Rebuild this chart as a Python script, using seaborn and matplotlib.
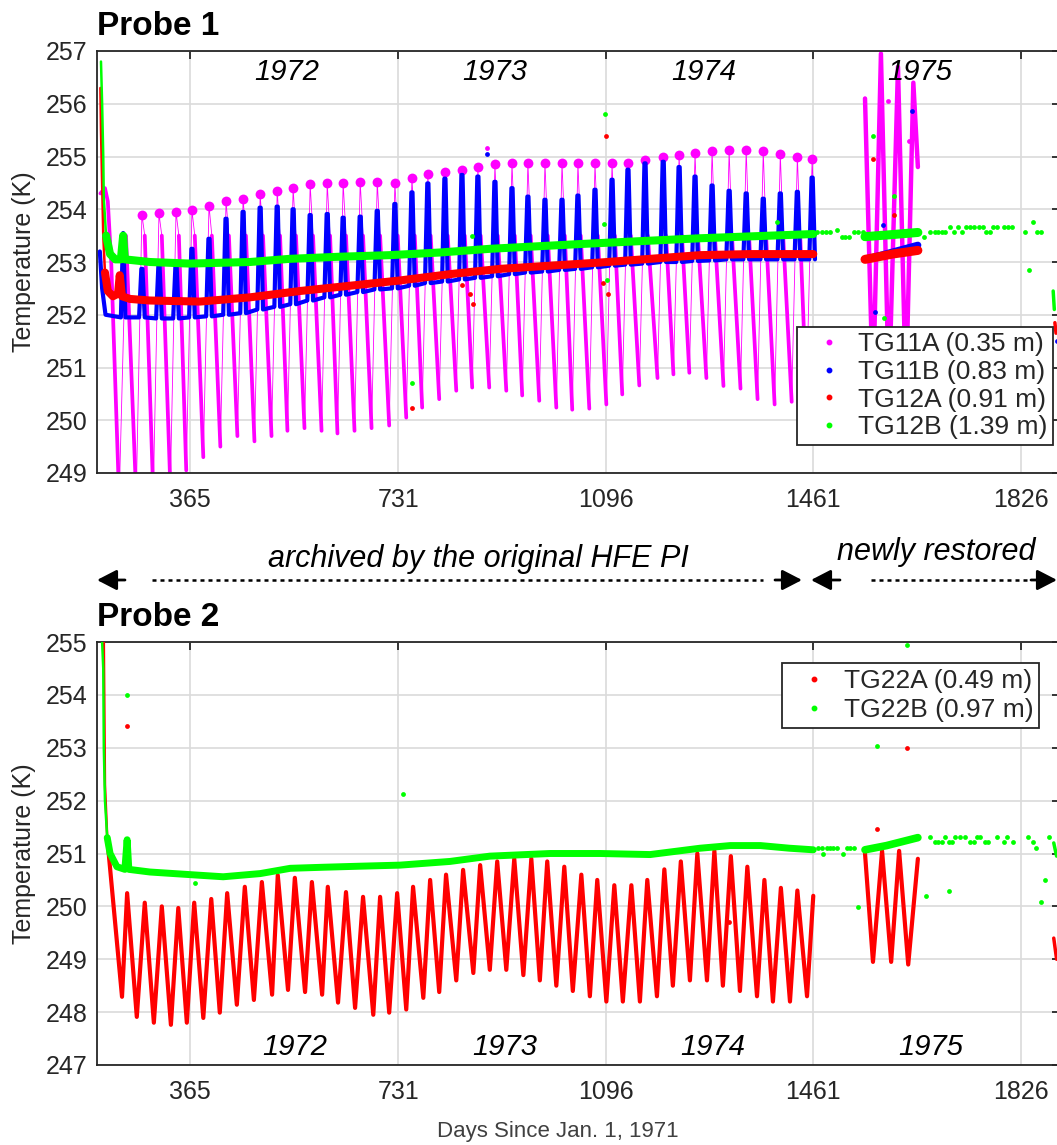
import matplotlib
matplotlib.use("Agg")
import numpy as np
import pandas as pd
import matplotlib.pyplot as plt
import seaborn as sns
from matplotlib.lines import Line2D

# ---------------------------------------------------------------- data
x_ticks = [365, 731, 1096, 1461, 1826]
probe1_yticks = list(range(249, 258))
probe2_yticks = list(range(247, 256))
year_labels = ["1972", "1973", "1974", "1975"]
year_day_probe1 = [535, 901, 1269, 1649]
year_day_probe2 = [549, 919, 1285, 1667]

# lunar-noon days (blue TG11B spikes, magenta TG11A top blobs)
lunar_noon_day = [280, 310, 340, 368, 398, 428, 458, 488, 518, 546,
                  576, 606, 634, 664, 694, 725, 755, 783, 813, 843,
                  871, 901, 931, 959, 989, 1019, 1047, 1077, 1107, 1135,
                  1165, 1197, 1225, 1253, 1283, 1313, 1343, 1373, 1403, 1433,
                  1459]

# ---- Probe 1 ----
tg11a_start_day = [207, 215, 220, 226]
tg11a_start_K = [254.3, 254.4, 254.15, 253.0]
tg11a_trough_day = [240, 270, 300, 330, 358, 388, 418, 448, 478, 508,
                    536, 566, 596, 624, 654, 684, 715, 745, 773, 803,
                    833, 861, 891, 921, 949, 979, 1009, 1037, 1067, 1097,
                    1125, 1155, 1187, 1215, 1243, 1273, 1303, 1333, 1363, 1393,
                    1423, 1449]
tg11a_trough_K = [248.5, 248.55, 248.6, 248.75, 249.05, 249.3, 249.5, 249.7, 249.6, 249.7,
                  249.8, 249.85, 249.8, 249.75, 249.8, 249.85, 249.9, 250.05, 250.24, 250.4,
                  250.56, 250.62, 250.62, 250.56, 250.47, 250.37, 250.24, 250.2, 250.22, 250.3,
                  250.49, 250.66, 250.8, 250.87, 250.9, 250.8, 250.65, 250.6, 250.4, 250.3,
                  250.35, 250.45]
tg11a_peak_K = [253.9, 253.92, 253.95, 253.98, 254.07, 254.15, 254.2, 254.28, 254.35, 254.4,
                254.47, 254.49, 254.5, 254.52, 254.52, 254.5, 254.6, 254.66, 254.7, 254.75,
                254.8, 254.85, 254.87, 254.88, 254.88, 254.88, 254.87, 254.87, 254.87, 254.88,
                254.94, 255.0, 255.03, 255.06, 255.1, 255.12, 255.13, 255.1, 255.05, 255.0,
                254.96]
tg11a_knee_K = 253.5
tg11a_1975_day = [1552, 1566, 1580, 1594, 1610, 1624, 1637, 1645]
tg11a_1975_K = [256.1, 250.5, 256.95, 250.5, 256.7, 250.5, 256.4, 254.8]
tg11a_out_day = [887, 1593, 1630]
tg11a_out_K = [255.17, 256.05, 255.3]

tg11b_start_day = [206, 210, 216, 243, 247, 251]
tg11b_start_K = [253.2, 252.5, 252.0, 251.95, 253.55, 251.95]
tg11b_base_K = [251.95, 251.93, 251.93, 251.95, 251.97, 252.0, 252.03, 252.1, 252.15, 252.2,
                252.27, 252.33, 252.38, 252.43, 252.48, 252.5, 252.55, 252.6, 252.63, 252.67,
                252.7, 252.73, 252.77, 252.8, 252.82, 252.85, 252.87, 252.9, 252.93, 252.95,
                252.97, 253.0, 253.0, 253.02, 253.03, 253.05, 253.05, 253.05, 253.05, 253.05,
                253.05]
tg11b_peak_K = [252.87, 252.94, 252.94, 253.25, 253.44, 253.82, 253.95, 254.03, 254.05, 254.0,
                253.89, 253.91, 253.84, 253.86, 253.97, 254.1, 254.32, 254.49, 254.58, 254.65,
                254.62, 254.52, 254.4, 254.24, 254.18, 254.18, 254.26, 254.37, 254.56, 254.75,
                254.87, 254.9, 254.8, 254.62, 254.45, 254.35, 254.3, 254.2, 254.3, 254.33,
                254.6]
tg11b_1975_day = [1552, 1645]
tg11b_1975_K = [253.05, 253.32]
tg11b_out_day = [887, 1635, 1584, 1570, 1889]
tg11b_out_K = [255.05, 255.86, 253.7, 252.05, 251.5]

# initial equilibration spikes (thin scatter columns) and the main curves
tg12a_spike_day = [207, 208, 210, 212, 215]
tg12a_spike_K = [256.3, 255.5, 254.5, 253.5, 252.8]
tg12a_day = [215, 220, 229, 238, 241, 245, 259, 294, 382, 470,
             558, 646, 734, 822, 910, 998, 1086, 1174, 1262, 1350, 1461]
tg12a_K = [252.8, 252.45, 252.35, 252.4, 252.75, 252.35,
           252.3, 252.27, 252.25, 252.33, 252.45, 252.55, 252.65, 252.77, 252.87, 252.93,
           252.99, 253.06, 253.13, 253.15, 253.15]
tg12a_1975_day = [1552, 1600, 1645]
tg12a_1975_K = [253.05, 253.15, 253.22]
tg12a_edge_day = [1886, 1888]
tg12a_edge_K = [251.85, 251.65]
tg12a_out_day = [1097, 857, 863, 843, 1100, 1091, 755, 1566, 1603]
tg12a_out_K = [255.38, 252.4, 252.2, 252.56, 252.4, 252.6, 250.24, 254.96, 253.9]

tg12b_spike_day = [208, 210, 212, 213, 217]
tg12b_spike_K = [256.8, 256.0, 255.0, 254.2, 253.5]
tg12b_day = [217, 224, 233, 243, 247, 250, 294, 364, 470, 540,
             628, 716, 804, 892, 1050, 1262, 1461]
tg12b_K = [253.5, 253.15, 253.05, 253.05, 253.5, 253.05,
           253.0, 252.97, 253.0, 253.06, 253.1, 253.13, 253.18, 253.25, 253.34, 253.45, 253.53]
tg12b_1975_day = [1552, 1600, 1645]
tg12b_1975_K = [253.48, 253.52, 253.56]
tg12b_edge_day = [1883, 1885]
tg12b_edge_K = [252.45, 252.1]
tg12b_sparse_day = [1468, 1476, 1483, 1490, 1503, 1512, 1517, 1524, 1533, 1540, 1549,
                    1655, 1667, 1675, 1681, 1687, 1693, 1702, 1708, 1715, 1722, 1730, 1737,
                    1744, 1752, 1759, 1765, 1771, 1778, 1785, 1797, 1804, 1811, 1834, 1848,
                    1855, 1861]
tg12b_sparse_K = [253.57, 253.57, 253.57, 253.57, 253.6, 253.48, 253.48, 253.48, 253.57, 253.57, 253.57,
                  253.48, 253.57, 253.57, 253.57, 253.57, 253.57, 253.67, 253.57, 253.67, 253.57, 253.67, 253.67,
                  253.67, 253.67, 253.67, 253.57, 253.57, 253.67, 253.67, 253.67, 253.67, 253.67, 253.57, 253.76,
                  253.57, 253.57]
tg12b_out_day = [1095, 1093, 861, 1098, 755, 1566, 1603, 1586, 1397, 1841]
tg12b_out_K = [255.8, 253.72, 253.5, 252.65, 250.7, 255.38, 254.26, 251.93, 253.76, 252.85]

# ---- Probe 2 ----
tg22a_spike_day = [213, 215, 219]
tg22a_spike_K = [255.0, 252.3, 251.3]
tg22a_day = [219, 245, 254, 271, 285, 301, 315, 331, 344, 359, 372, 388, 402,
             417, 430, 447, 461, 477, 491, 509, 519, 537, 549, 567, 579, 597, 607, 625,
             639, 655, 669, 687, 699, 715, 729, 745, 757, 775, 787, 803, 815, 833, 845,
             863, 875, 892, 905, 921, 935, 951, 965, 980, 993, 1009, 1023, 1038, 1053, 1068,
             1081, 1097, 1111, 1126, 1141, 1156, 1169, 1186, 1199, 1214, 1228, 1244, 1257, 1274,
             1287, 1302, 1316, 1332, 1345, 1362, 1375, 1390, 1404, 1420, 1433, 1450, 1461]
tg22a_K = [251.3, 248.29, 250.25, 247.91, 250.07, 247.8, 250.0, 247.76, 249.97,
           247.8, 250.07, 247.89, 250.14, 247.99, 250.25, 248.14, 250.37, 248.23, 250.46,
           248.33, 250.59, 248.42, 250.54, 248.38, 250.46, 248.33, 250.37, 248.18, 250.27,
           248.08, 250.18, 247.95, 250.18, 247.99, 250.25, 248.05, 250.37, 248.27, 250.5,
           248.38, 250.6, 248.6, 250.69, 248.74, 250.78, 248.8, 250.85, 248.8, 250.9,
           248.7, 250.9, 248.6, 250.85, 248.5, 250.75, 248.4, 250.6, 248.3, 250.5,
           248.2, 250.4, 248.2, 250.4, 248.2, 250.5, 248.3, 250.7, 248.5, 250.85,
           248.6, 251.0, 248.6, 251.05, 248.5, 250.95, 248.4, 250.75, 248.3, 250.5,
           248.2, 250.35, 248.2, 250.3, 248.3, 250.2]
tg22a_1975_day = [1552, 1566, 1582, 1598, 1612, 1628, 1645]
tg22a_1975_K = [251.0, 248.95, 251.05, 248.95, 251.05, 248.9, 250.9]
tg22a_edge_day = [1884, 1889]
tg22a_edge_K = [249.4, 249.0]
tg22a_out_day = [254, 1626, 1573, 1313]
tg22a_out_K = [253.41, 253.0, 251.46, 249.7]

tg22b_spike_day = [210, 212, 213, 215, 219]
tg22b_spike_K = [255.0, 254.5, 253.0, 252.0, 251.3]
tg22b_day = [219, 224, 236, 250, 254, 257, 294, 365, 423, 488, 541,
             599, 664, 734, 822, 892, 998, 1086, 1174, 1262, 1315, 1368, 1419, 1461]
tg22b_K = [251.3, 251.0, 250.75, 250.7, 251.26, 250.7, 250.65,
           250.6, 250.56, 250.62, 250.72, 250.74, 250.76, 250.78, 250.85, 250.95, 251.0,
           251.0, 250.98, 251.1, 251.15, 251.15, 251.1, 251.07]
tg22b_1975_day = [1552, 1590, 1645]
tg22b_1975_K = [251.07, 251.15, 251.3]
tg22b_edge_day = [1884, 1889]
tg22b_edge_K = [251.2, 250.95]
tg22b_sparse_day = [1470, 1476, 1478, 1485, 1491, 1496, 1503, 1513, 1520, 1526, 1533,
                    1667, 1675, 1681, 1687, 1693, 1700, 1705, 1710, 1719, 1728, 1737, 1744,
                    1749, 1754, 1763, 1769, 1785, 1796, 1801, 1813, 1839, 1847, 1853, 1875]
tg22b_sparse_K = [251.1, 251.1, 251.0, 251.1, 251.1, 251.1, 251.1, 251.0, 251.1, 251.1, 251.1,
                  251.32, 251.22, 251.22, 251.22, 251.32, 251.22, 251.22, 251.32, 251.32, 251.32, 251.22, 251.22,
                  251.32, 251.32, 251.22, 251.22, 251.32, 251.22, 251.32, 251.22, 251.32, 251.22, 251.1, 251.32]
tg22b_out_day = [254, 739, 1626, 1573, 1540, 1659, 1700, 1869, 1862, 373]
tg22b_out_K = [254.0, 252.13, 254.95, 253.04, 249.99, 250.2, 250.3, 250.5, 250.08, 250.44]

probe1_labels = ["TG11A (0.35 m)", "TG11B (0.83 m)", "TG12A (0.91 m)", "TG12B (1.39 m)"]
probe2_labels = ["TG22A (0.49 m)", "TG22B (0.97 m)"]

MAG, BLU, RED, GRN = "#ff00ff", "#0000ff", "#ff0000", "#00ff00"

# ---------------------------------------------------------------- style
sns.set_theme(style="white")
plt.rcParams["font.family"] = ["Liberation Sans", "DejaVu Sans"]
DARK = "#262626"

W, H = 1057, 1145
fig = plt.figure(figsize=(W / 100, H / 100), dpi=100)
ax1 = fig.add_axes([97 / W, (H - 473) / H, (1060 - 97) / W, 422 / H])
ax2 = fig.add_axes([97 / W, (H - 1065) / H, (1060 - 97) / W, 423 / H])


def draw_line(ax, days, temps, color, lw, units=None, z=2, cap="round"):
    df = pd.DataFrame({"day": days, "K": temps})
    df["seg"] = units if units is not None else 0
    sns.lineplot(data=df, x="day", y="K", units="seg", estimator=None, sort=False,
                 color=color, linewidth=lw, ax=ax, legend=False, zorder=z,
                 solid_capstyle=cap, solid_joinstyle="round")


def draw_dots(ax, days, temps, color, s=10, z=3):
    df = pd.DataFrame({"day": days, "K": temps})
    sns.scatterplot(data=df, x="day", y="K", color=color, s=s, linewidth=0,
                    ax=ax, legend=False, zorder=z)


# ---------------- Probe 1
# TG11A : thin rises and thick nightly cooling strokes
knee_day = [252] + [d + 5 for d in lunar_noon_day]
rise_d, rise_k, rise_u = [], [], []
rise_d += [tg11a_trough_day[0], knee_day[0]]
rise_k += [tg11a_trough_K[0], tg11a_knee_K]
rise_u += [0, 0]
for j in range(len(lunar_noon_day)):
    rise_d += [tg11a_trough_day[j + 1], lunar_noon_day[j], knee_day[j + 1]]
    rise_k += [tg11a_trough_K[j + 1], tg11a_peak_K[j], tg11a_knee_K]
    rise_u += [j + 1] * 3
draw_line(ax1, rise_d, rise_k, MAG, 0.6, rise_u, z=2)

desc_d, desc_k, desc_u = [], [], []
desc_d += tg11a_start_day + [tg11a_trough_day[0]]
desc_k += tg11a_start_K + [tg11a_trough_K[0]]
desc_u += [0] * (len(tg11a_start_day) + 1)
for j in range(len(tg11a_trough_day) - 1):
    desc_d += [knee_day[j], tg11a_trough_day[j + 1]]
    desc_k += [tg11a_knee_K, tg11a_trough_K[j + 1]]
    desc_u += [j + 1] * 2
draw_line(ax1, desc_d, desc_k, MAG, 2.7, desc_u, z=2)
draw_dots(ax1, lunar_noon_day, tg11a_peak_K, MAG, s=50, z=2)
draw_line(ax1, tg11a_1975_day, tg11a_1975_K, MAG, 3.2, z=2)
draw_dots(ax1, tg11a_out_day, tg11a_out_K, MAG, s=12)

# TG11B
b_d, b_k = list(tg11b_start_day), list(tg11b_start_K)
for d, base, pk in zip(lunar_noon_day, tg11b_base_K, tg11b_peak_K):
    b_d += [d - 5, d - 1, d + 1, d + 5]
    b_k += [base, pk, pk, base]
draw_line(ax1, b_d, b_k, BLU, 3.0, z=3)
draw_line(ax1, tg11b_1975_day, tg11b_1975_K, BLU, 5, z=3)
draw_dots(ax1, tg11b_out_day, tg11b_out_K, BLU, s=12)

# TG12A
draw_line(ax1, tg12a_spike_day, tg12a_spike_K, RED, 1.8, z=4)
draw_line(ax1, tg12a_day, tg12a_K, RED, 5.8, z=4)
draw_line(ax1, tg12a_1975_day, tg12a_1975_K, RED, 6.5, z=4)
draw_line(ax1, tg12a_edge_day, tg12a_edge_K, RED, 2.5, z=4)
draw_dots(ax1, tg12a_out_day, tg12a_out_K, RED, s=12, z=4)

# TG12B
draw_line(ax1, tg12b_spike_day, tg12b_spike_K, GRN, 1.8, z=5)
draw_line(ax1, tg12b_day, tg12b_K, GRN, 5.8, z=5)
draw_line(ax1, tg12b_1975_day, tg12b_1975_K, GRN, 6.5, z=5)
draw_line(ax1, tg12b_edge_day, tg12b_edge_K, GRN, 2.5, z=5)
draw_dots(ax1, tg12b_sparse_day, tg12b_sparse_K, GRN, s=12, z=5)
draw_dots(ax1, tg12b_out_day, tg12b_out_K, GRN, s=12, z=5)

# ---------------- Probe 2
draw_line(ax2, tg22a_spike_day, tg22a_spike_K, RED, 1.8, z=3)
draw_line(ax2, tg22a_day, tg22a_K, RED, 3.0, z=3)
draw_line(ax2, tg22a_1975_day, tg22a_1975_K, RED, 3.0, z=3)
draw_line(ax2, tg22a_edge_day, tg22a_edge_K, RED, 2.5, z=3)
draw_dots(ax2, tg22a_out_day, tg22a_out_K, RED, s=12, z=3)

draw_line(ax2, tg22b_spike_day, tg22b_spike_K, GRN, 1.8, z=4)
draw_line(ax2, tg22b_day, tg22b_K, GRN, 5.0, z=4)
draw_line(ax2, tg22b_1975_day, tg22b_1975_K, GRN, 5.5, z=4)
draw_line(ax2, tg22b_edge_day, tg22b_edge_K, GRN, 2.5, z=4)
draw_dots(ax2, tg22b_sparse_day, tg22b_sparse_K, GRN, s=12, z=4)
draw_dots(ax2, tg22b_out_day, tg22b_out_K, GRN, s=12, z=4)

# ---------------- axes styling
for ax, yt in ((ax1, probe1_yticks), (ax2, probe2_yticks)):
    ax.set_xlim(201, 1895)
    ax.set_ylim(yt[0], yt[-1])
    ax.set_xticks(x_ticks)
    ax.set_xticklabels([str(t) for t in x_ticks])
    ax.set_yticks(yt)
    ax.set_yticklabels([str(t) for t in yt])
    ax.set_axisbelow(True)
    ax.grid(True, color="#dadada", linewidth=1.2)
    for sp in ax.spines.values():
        sp.set_color(DARK)
        sp.set_linewidth(1.3)
    ax.tick_params(axis="both", which="both", direction="in", length=6, width=1.3,
                   color=DARK, labelcolor=DARK, labelsize=18, top=True, right=True)
    ax.tick_params(axis="x", pad=11)
    ax.tick_params(axis="y", pad=7)
    ax.set_xlabel("")
    ax.set_ylabel("Temperature (K)", fontsize=18, color=DARK)
    ax.yaxis.set_label_coords(-0.063, 0.5)

for lab, d in zip(year_labels, year_day_probe1):
    ax1.text(d, 256.6, lab, fontsize=21, style="italic", ha="center", va="center",
             color="black", zorder=6)
for lab, d in zip(year_labels, year_day_probe2):
    ax2.text(d, 247.34, lab, fontsize=21, style="italic", ha="center", va="center",
             color="black", zorder=6)

# legends
def mk(c):
    return Line2D([0], [0], marker="o", ls="", color=c, markersize=3.2)

leg1 = ax1.legend([mk(MAG), mk(BLU), mk(RED), mk(GRN)], probe1_labels,
                  loc="upper left", bbox_to_anchor=(0.7269, 0.346), borderaxespad=0,
                  fontsize=19, frameon=True, fancybox=False, framealpha=1,
                  edgecolor=DARK, handlelength=2.0, handletextpad=0.12,
                  labelspacing=0.14, borderpad=0.2)
leg1.get_frame().set_linewidth(1.3)
leg1.set_zorder(10)
leg2 = ax2.legend([mk(RED), mk(GRN)], probe2_labels,
                  loc="upper left", bbox_to_anchor=(0.7113, 0.9504), borderaxespad=0,
                  fontsize=19, frameon=True, fancybox=False, framealpha=1,
                  edgecolor=DARK, handlelength=2.0, handletextpad=0.12,
                  labelspacing=0.21, borderpad=0.22)
leg2.get_frame().set_linewidth(1.3)
leg2.set_zorder(10)

# ---------------- figure texts
fig.text(97 / W, (H - 35) / H, "Probe 1", fontsize=24, fontweight="bold",
         ha="left", va="baseline", color="black")
fig.text(97 / W, (H - 626) / H, "Probe 2", fontsize=24, fontweight="bold",
         ha="left", va="baseline", color="black")
fig.text(478 / W, (H - 567) / H, "archived by the original HFE PI", fontsize=22,
         style="italic", ha="center", va="baseline", color="black")
fig.text(936 / W, (H - 560) / H, "newly restored", fontsize=22,
         style="italic", ha="center", va="baseline", color="black")
fig.text(558 / W, (H - 1137) / H, "Days Since Jan. 1, 1971", fontsize=16,
         ha="center", va="baseline", color="#404040")

# arrows
ya = H - 580
arrow_kw = dict(arrowstyle="-|>,head_length=1.2,head_width=0.62", lw=2.0,
                color="black", mutation_scale=10, shrinkA=0, shrinkB=0)
for tail, tip in ((125, 97), (775, 802), (840, 811), (1031, 1057)):
    ax1.annotate("", xy=(tip, ya), xytext=(tail, ya), xycoords="figure pixels",
                 textcoords="figure pixels", arrowprops=arrow_kw, annotation_clip=False)
for x0, x1 in ((152, 763), (871, 1028)):
    fig.add_artist(Line2D([x0 / W, x1 / W], [ya / H, ya / H], transform=fig.transFigure,
                          color="black", lw=1.8, linestyle=(0, (1.6, 1.6))))

fig.savefig("out.png", dpi=100)
